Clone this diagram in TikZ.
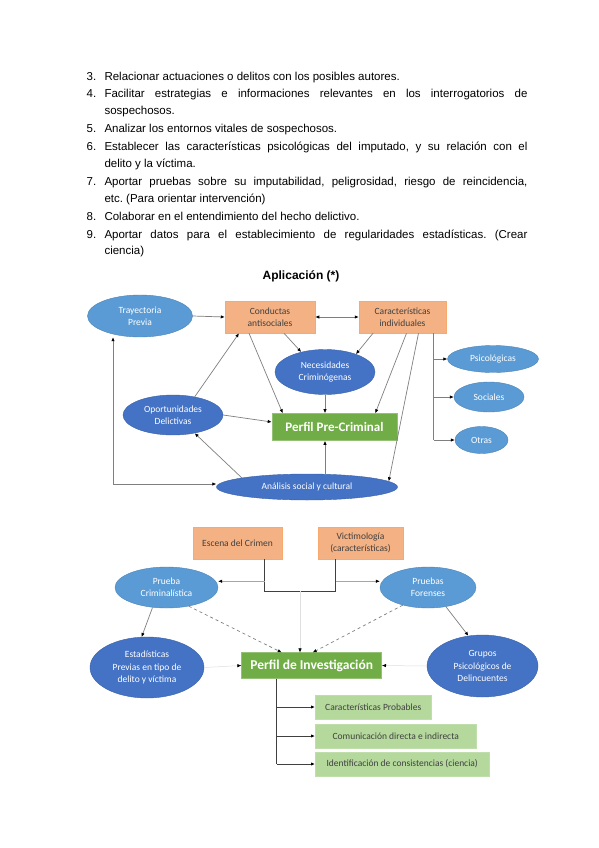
\documentclass[tikz,border=0pt]{standalone}
\usepackage{fontspec}
\setmainfont{Liberation Sans}
\newfontfamily\diagfont{Carlito}
\usetikzlibrary{arrows.meta,shapes.geometric}
\frenchspacing

\definecolor{salmon}{HTML}{F4B183}
\definecolor{darkblue}{HTML}{4472C4}
\definecolor{lightblue}{HTML}{5B9BD5}
\definecolor{pgreen}{HTML}{70AD47}
\definecolor{palegreen}{HTML}{B5D89C}
\definecolor{linkgray}{HTML}{7F7F7F}
\definecolor{boxtext}{HTML}{404040}

\begin{document}
\begin{tikzpicture}[
        x=1pt, y=-1pt,
        >={Latex[length=4pt,width=3.4pt,color=black]},
        every node/.style={font=\diagfont\fontsize{9.5}{12.3}\selectfont, align=center, inner sep=0pt},
        listtext/.style={anchor=base west, font=\normalfont\fontsize{11.5}{16.7}\selectfont},
        bubble/.style={ellipse, fill=#1, draw=#1!85!black, line width=0.4pt, text=white},
        salmonbox/.style={rectangle, fill=salmon, draw=salmon!85!orange, line width=0.5pt, text=boxtext},
        greenbox/.style={rectangle, fill=palegreen, draw=palegreen!85!white, line width=0.5pt, text=boxtext, minimum height=24pt},
        profile/.style={rectangle, fill=pgreen, draw=pgreen!75!white, line width=0.6pt, text=white},
        link/.style={draw=linkgray, line width=0.7pt},
        thinlink/.style={draw=gray!70, line width=0.5pt},
        faint/.style={draw=gray!25, line width=0.5pt},
        dashlink/.style={draw=gray, line width=0.7pt, dashed},
        bracket/.style={draw=boxtext, line width=0.8pt}
        ]
            \fill[white] (0,0) rectangle (599,848);
            \useasboundingbox (0,0) rectangle (599,848);

            % Lista de objetivos
            \node[listtext] (n3) at (86.5,80.5) {3.};
            \node[listtext] (t3) at (104.3,80.5) {\parbox[t]{423pt}{Relacionar actuaciones o delitos con los posibles autores.}};
            \node[listtext] (n4) at (86.5,98) {4.};
            \node[listtext] (t4) at (104.3,98) {\parbox[t]{423pt}{Facilitar estrategias e informaciones relevantes en los interrogatorios de\linebreak sospechosos.}};
            \node[listtext] (n5) at (86.5,132.7) {5.};
            \node[listtext] (t5) at (104.3,132.7) {\parbox[t]{423pt}{Analizar los entornos vitales de sospechosos.}};
            \node[listtext] (n6) at (86.5,150.7) {6.};
            \node[listtext] (t6) at (104.3,150.7) {\parbox[t]{423pt}{Establecer las características psicológicas del imputado, y su relación con el\linebreak delito y la víctima.}};
            \node[listtext] (n7) at (86.5,185.4) {7.};
            \node[listtext] (t7) at (104.3,185.4) {\parbox[t]{423pt}{Aportar pruebas sobre su imputabilidad, peligrosidad, riesgo de reincidencia,\linebreak etc. (Para orientar intervención)}};
            \node[listtext] (n8) at (86.5,220.1) {8.};
            \node[listtext] (t8) at (104.3,220.1) {\parbox[t]{423pt}{Colaborar en el entendimiento del hecho delictivo.}};
            \node[listtext] (n9) at (86.5,238.1) {9.};
            \node[listtext] (t9) at (104.3,238.1) {\parbox[t]{423pt}{Aportar datos para el establecimiento de regularidades estadísticas. (Crear\linebreak ciencia)}};

            \node[anchor=base, font=\normalfont\bfseries\fontsize{12}{14}\selectfont] (titulo) at (301,279) {Aplicación (*)};

            % Perfil pre-criminal
            \node[bubble=lightblue, minimum width=105pt, minimum height=42pt] (tray) at (140,316) {Trayectoria\\Previa};
            \node[salmonbox, minimum width=90pt, minimum height=32pt] (cond) at (270,317) {Conductas\\antisociales};
            \node[salmonbox, minimum width=87pt, minimum height=32pt] (carac) at (402.5,317) {Características\\individuales};
            \node[bubble=darkblue, minimum width=100pt, minimum height=45pt] (nec) at (325,372) {Necesidades\\Criminógenas};
            \node[bubble=darkblue, minimum width=100pt, minimum height=40pt] (oport) at (173,415) {Oportunidades\\Delictivas};
            \node[profile, minimum width=125pt, minimum height=27pt, font=\diagfont\bfseries\fontsize{13}{15}\selectfont] (ppc) at (334.5,427) {Perfil Pre-Criminal};
            \node[bubble=darkblue, minimum width=181pt, minimum height=26pt] (anal) at (307,487) {Análisis social y cultural};
            \node[bubble=lightblue, minimum width=91pt, minimum height=27pt] (psico) at (493,359) {Psicológicas};
            \node[bubble=lightblue, minimum width=70pt, minimum height=30pt] (soc) at (489,397) {Sociales};
            \node[bubble=lightblue, minimum width=53pt, minimum height=27pt] (otras) at (481.5,440) {Otras};

            \draw[link, ->] (tray.east) -- (cond.west);
            \draw[link, <->] (cond.east) -- (carac.west);
            \draw[link, ->] ([xshift=14pt]cond.south) -- (nec.140);
            \draw[link, ->] ([xshift=-29.5pt]carac.south) -- (nec.30);
            \draw[link, ->] ([xshift=-21pt]cond.south) -- ([xshift=11pt]ppc.north west);
            \draw[link, ->] (nec.south) -- (nec.south |- ppc.north);
            \draw[link, ->] ([xshift=4pt]carac.south) -- ([xshift=-22pt]ppc.north east);
            \draw[link, ->] ([xshift=16pt]carac.south) -- (anal.4);
            \draw[link, ->] (oport.40) -- ([xshift=-31pt]cond.south);
            \draw[link, ->] (oport.east) -- ([yshift=5pt]ppc.west);
            \draw[link, ->] (anal.172) -- (oport.-40);
            \draw[link, ->] (nec.south |- anal.north) -- (nec.south |- ppc.south);

            \coordinate (bucle) at (113,484);
            \draw[link, <->] (bucle |- tray.south) -- (bucle) -- (bucle -| anal.west);

            \coordinate (rama) at ([xshift=31pt]carac.south);
            \draw[link] (rama) -- (rama |- otras.west);
            \foreach \n in {psico, soc, otras}
                \draw[link, ->] (rama |- \n.west) -- (\n.west);

            % Perfil de investigacion
            \node[salmonbox, minimum width=89pt, minimum height=32pt] (esc) at (237.5,543) {Escena del Crimen};
            \node[salmonbox, minimum width=85pt, minimum height=32pt] (vict) at (360.5,543) {Victimología\\(características)};
            \node[bubble=lightblue, minimum width=103pt, minimum height=41pt] (pcrim) at (166.5,587.5) {Prueba\\Criminalística};
            \node[bubble=lightblue, minimum width=96pt, minimum height=41pt] (pfor) at (428,587.5) {Pruebas\\Forenses};
            \node[bubble=darkblue, minimum width=114pt, minimum height=61pt] (est) at (147,667.5) {Estadísticas\\Previas en tipo de\\delito y víctima};
            \node[profile, minimum width=140pt, minimum height=25.5pt, font=\diagfont\bfseries\fontsize{13.5}{15}\selectfont] (pinv) at (311.7,665.5) {Perfil de Investigación};
            \node[bubble=darkblue, minimum width=111pt, minimum height=62pt] (grup) at (482.5,666) {Grupos\\Psicológicos de\\Delincuentes};
            \node[greenbox, minimum width=116pt, anchor=west] (cprob) at (315,707) {Características Probables};
            \node[greenbox, minimum width=161pt, anchor=west] (comu) at (315,736) {Comunicación directa e indirecta};
            \node[greenbox, minimum width=174pt, anchor=west] (ident) at (315,764) {Identificación de consistencias (ciencia)};

            \coordinate (codoI) at ([xshift=27pt]esc.south);
            \coordinate (codoD) at ([xshift=-25pt]vict.south);
            \draw[bracket] (codoI) -- ++(0,32) -| (codoD);
            \coordinate (brazoI) at ([yshift=-22pt]codoI);
            \coordinate (brazoD) at ([yshift=-22pt]codoD);
            \draw[thinlink, ->] (brazoI) -- (brazoI -| pcrim.east);
            \draw[thinlink, ->] (brazoD) -- (brazoD -| pfor.west);
            \coordinate (medio) at (300,591);
            \draw[faint, ->] (medio) -- (medio |- pinv.north);

            \draw[dashlink, ->] (pcrim.-40) -- ([xshift=-30pt]pinv.north);
            \draw[dashlink, ->] (pfor.-145) -- ([xshift=1pt]pinv.north);
            \draw[link, ->] (pcrim.-125) -- (est.100);
            \draw[link, ->] (pfor.-47) -- (grup.115);
            \draw[faint, ->] (est.east) -- (pinv.west);
            \draw[faint, ->] (grup.west) -- (pinv.east);

            \coordinate (tronco) at ([xshift=-35pt]pinv.south);
            \draw[bracket] (tronco) -- (tronco |- ident.west);
            \foreach \n in {cprob, comu, ident}
                \draw[bracket, ->] (tronco |- \n.west) -- (\n.west);
        \end{tikzpicture}
\end{document}
